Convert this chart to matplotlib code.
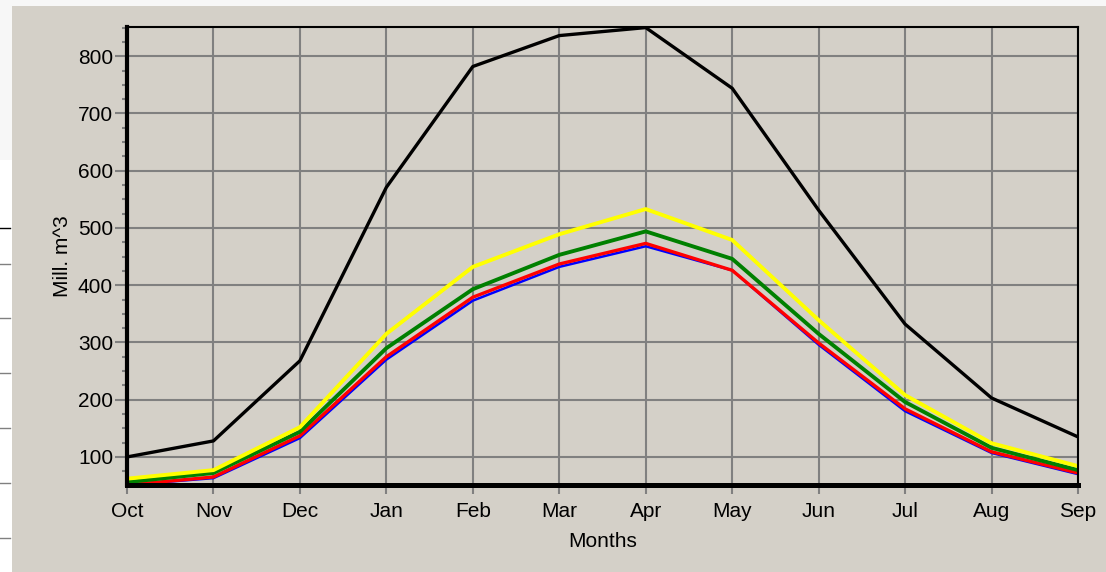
import matplotlib
matplotlib.use("Agg")
import matplotlib.pyplot as plt
from matplotlib.lines import Line2D
from matplotlib.patches import Rectangle
from matplotlib.ticker import MultipleLocator

months = ["Oct", "Nov", "Dec", "Jan", "Feb", "Mar", "Apr", "May", "Jun", "Jul", "Aug", "Sep"]
black_series = [100, 128, 268, 571, 782, 836, 850, 744, 531, 332, 203, 135]
yellow_series = [62, 77, 152, 315, 432, 489, 533, 479, 339, 208, 124, 84]
green_series = [56, 72, 144, 290, 393, 453, 494, 446, 315, 196, 116, 77]
red_series = [51, 65, 137, 275, 379, 437, 473, 426, 299, 184, 109, 72]
blue_series = [51, 63, 133, 270, 373, 432, 468, 426, 296, 180, 107, 70]
yticks = [100, 200, 300, 400, 500, 600, 700, 800]

W, H = 1106, 572
plt.rcParams['font.family'] = ['Liberation Sans', 'DejaVu Sans']
fig = plt.figure(figsize=(W / 100, H / 100), dpi=100)
fig.patch.set_facecolor("white")

bg = "#d4d0c8"
fig.patches.append(Rectangle((12 / W, 0), 1 - 12 / W, 1 - 6 / H, transform=fig.transFigure,
                             facecolor=bg, edgecolor="none", zorder=-3))
fig.patches.append(Rectangle((0, 1 - 160 / H), 12 / W, 160 / H, transform=fig.transFigure,
                             facecolor="#f7f7f7", edgecolor="none", zorder=-3))
fig.patches.append(Rectangle((12 / W, 1 - 6 / H), 1 - 12 / W, 6 / H, transform=fig.transFigure,
                             facecolor="#f7f7f7", edgecolor="none", zorder=-3))
for yy, c in [(228, "black"), (264, "#808080"), (318, "#808080"), (373, "#808080"),
              (428, "#808080"), (483, "#808080"), (538, "#808080")]:
    fig.lines.append(Line2D([0, 10 / W], [1 - yy / H, 1 - yy / H], transform=fig.transFigure,
                            color=c, lw=1.0, zorder=-2))

L, R, T, B = 127, 1078, 27, 485
ax = fig.add_axes([L / W, 1 - B / H, (R - L) / W, (B - T) / H])
ax.set_facecolor(bg)

x = list(range(len(months)))
ax.plot(x, black_series, color="black", lw=2.4, zorder=5)
ax.plot(x, blue_series, color="#0000ff", lw=1.8, zorder=3)
ax.plot(x, red_series, color="#ff0000", lw=2.4, zorder=4)
ax.plot(x, green_series, color="#008000", lw=2.8, zorder=4.5)
ax.plot(x, yellow_series, color="#ffff00", lw=2.8, zorder=4.7)

ax.set_xlim(0, len(months) - 1)
ax.set_ylim(51, 851)
ax.set_xticks(x)
ax.set_xticklabels(months)
ax.set_yticks(yticks)
ax.yaxis.set_minor_locator(MultipleLocator(25))

ax.grid(True, which="major", color="#808080", lw=1.5, zorder=1)
ax.set_axisbelow(True)

ax.tick_params(axis="y", which="major", direction="out", length=8.5, width=1.5,
               color="#808080", labelsize=15, pad=1.5)
ax.tick_params(axis="y", which="minor", direction="out", length=3.6, width=1.5, color="#808080")
ax.tick_params(axis="x", which="major", direction="out", length=6.5, width=1.5,
               color="#808080", labelsize=15, pad=5.5)

ax.spines["left"].set_linewidth(3.0)
ax.spines["bottom"].set_linewidth(3.6)
ax.spines["top"].set_linewidth(1.5)
ax.spines["right"].set_linewidth(1.5)
for s in ax.spines.values():
    s.set_color("black")
    s.set_zorder(6)

ax.set_ylabel("Mill. m^3", fontsize=15, labelpad=4)
ax.set_xlabel("Months", fontsize=15, labelpad=8)

fig.savefig("out.png", dpi=100, facecolor=fig.get_facecolor())
